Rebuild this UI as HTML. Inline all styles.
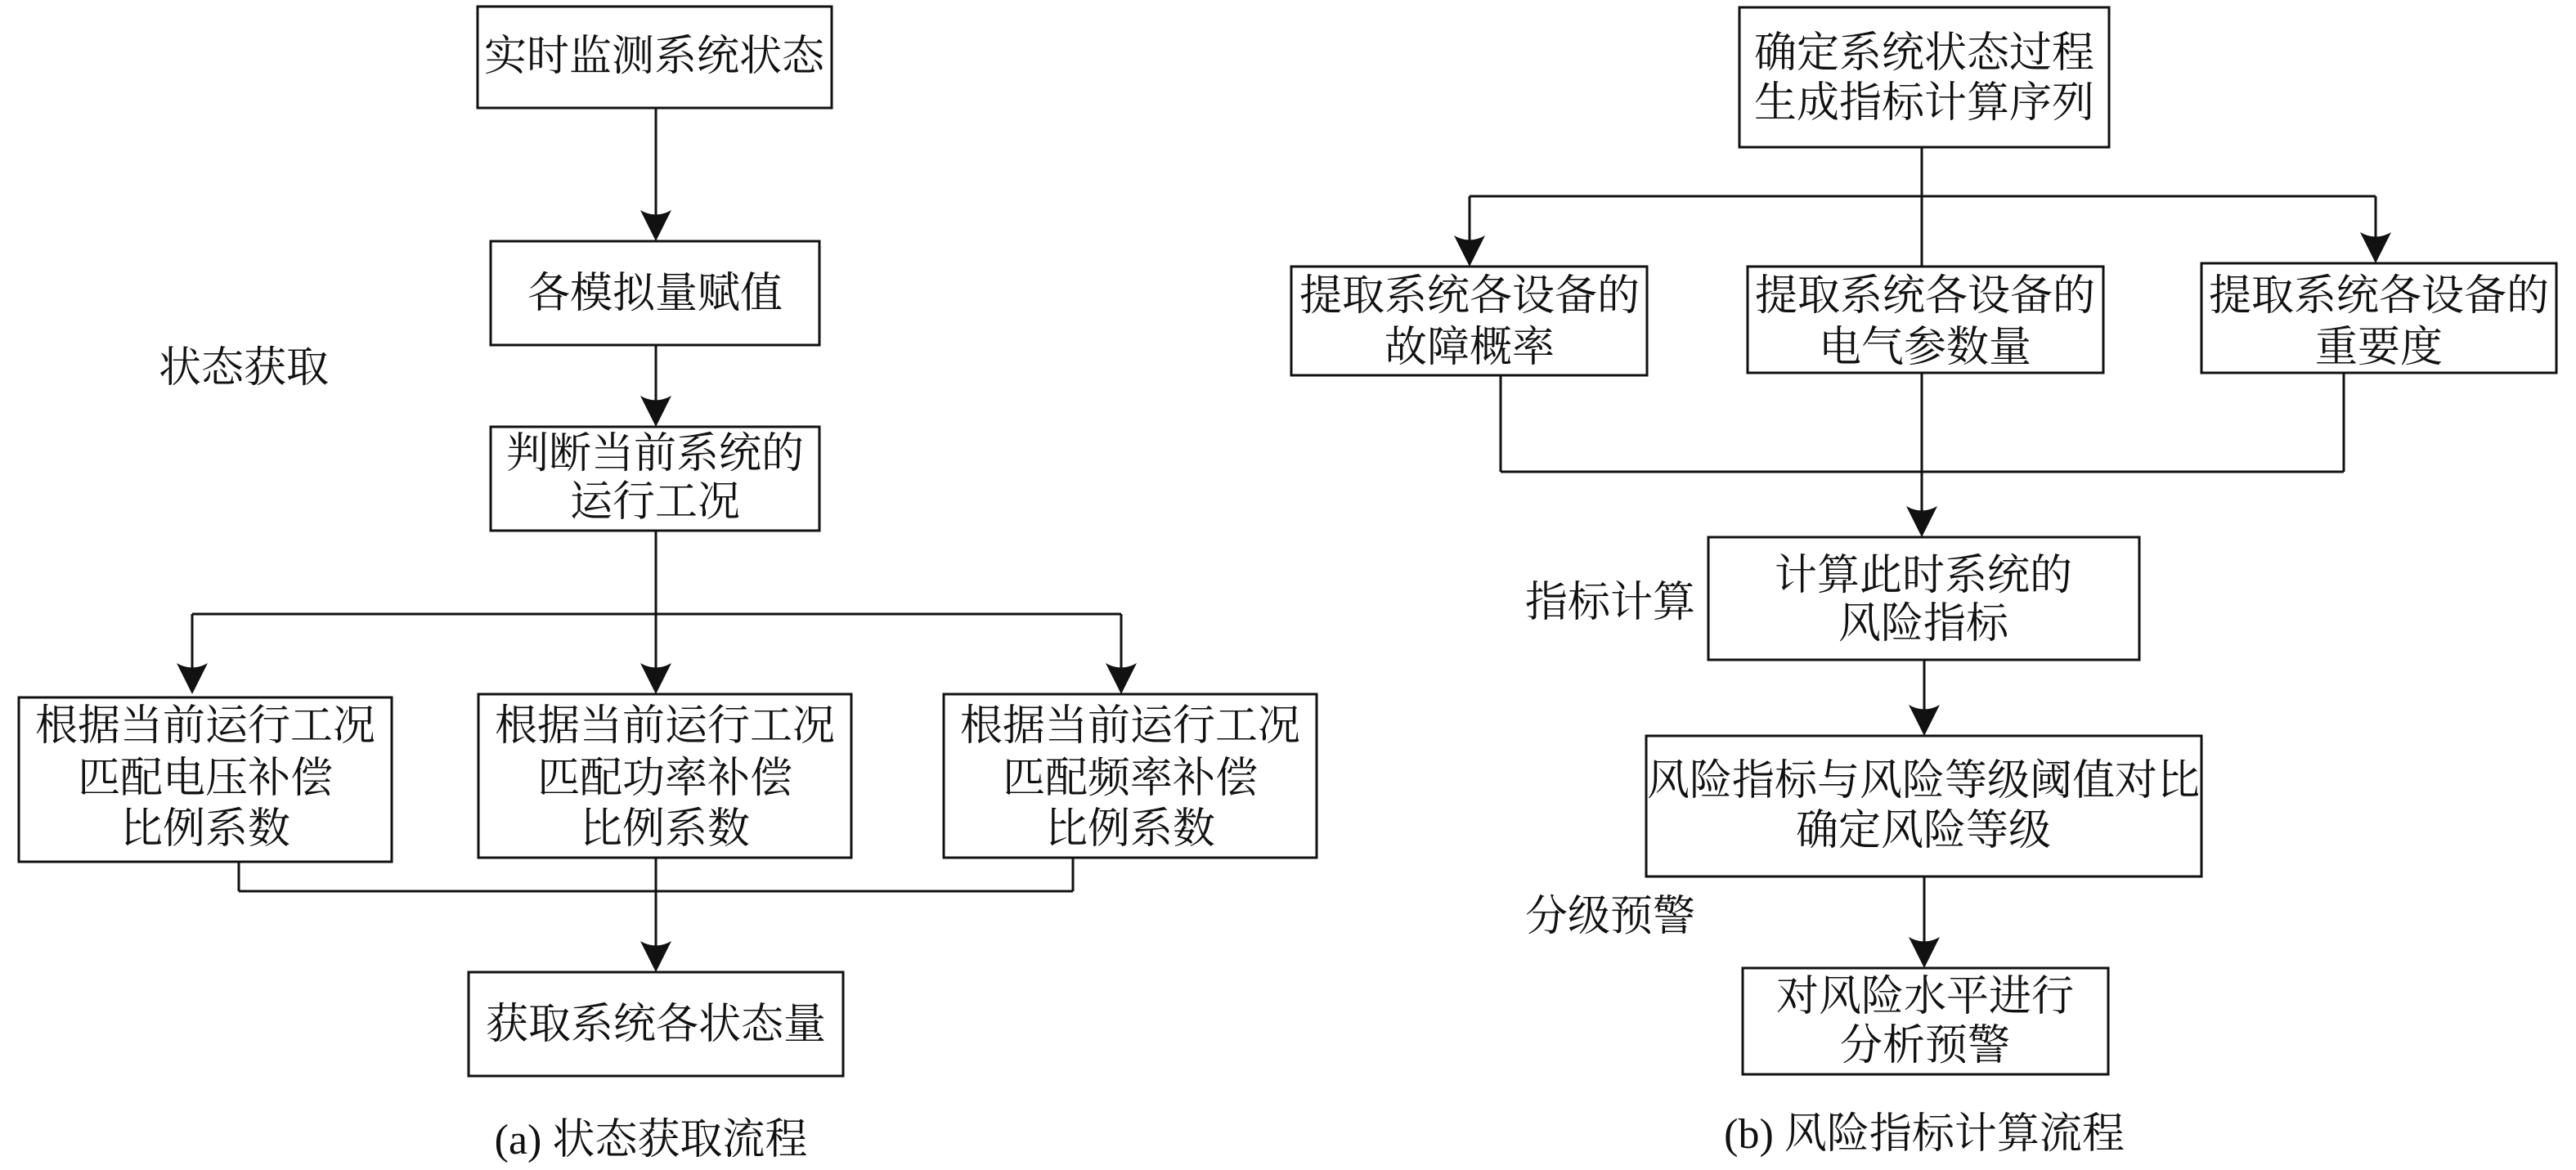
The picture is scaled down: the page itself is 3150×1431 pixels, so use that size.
<!DOCTYPE html>
<html>
<head>
<meta charset="utf-8">
<style>
  html, body { margin: 0; padding: 0; background: #ffffff; }
  svg { display: block; }
  text { font-family: "Noto Serif CJK SC", "Noto Serif CJK JP", "Noto Serif CJK TC", "Liberation Serif", serif; font-size: 52px; font-weight: 400; fill: #111; }
  text .lat { font-family: "Liberation Serif", serif; }
</style>
</head>
<body>
<svg width="3150" height="1431" viewBox="0 0 3150 1431" xmlns="http://www.w3.org/2000/svg">
  <g fill="none" stroke="#111" stroke-width="3">
    <!-- Left diagram boxes -->
    <rect x="584" y="8" width="433" height="124"/>
    <rect x="600" y="295" width="402" height="127"/>
    <rect x="600" y="522" width="402" height="127"/>
    <rect x="23" y="853" width="456" height="201"/>
    <rect x="585" y="849" width="456" height="200"/>
    <rect x="1154" y="849" width="456" height="200"/>
    <rect x="573" y="1189" width="458" height="127"/>
    <!-- Left connectors -->
    <line x1="802" y1="132" x2="802" y2="270"/>
    <line x1="802" y1="422" x2="802" y2="500"/>
    <line x1="802" y1="649" x2="802" y2="751"/>
    <line x1="235" y1="751" x2="1371" y2="751"/>
    <line x1="235" y1="751" x2="235" y2="830"/>
    <line x1="802" y1="751" x2="802" y2="830"/>
    <line x1="1371" y1="751" x2="1371" y2="830"/>
    <line x1="292" y1="1054" x2="292" y2="1090"/>
    <line x1="1312" y1="1049" x2="1312" y2="1090"/>
    <line x1="292" y1="1090" x2="1312" y2="1090"/>
    <line x1="802" y1="1049" x2="802" y2="1170"/>

    <!-- Right diagram boxes -->
    <rect x="2127" y="9" width="452" height="171"/>
    <rect x="1579" y="326" width="435" height="133"/>
    <rect x="2137" y="326" width="435" height="130"/>
    <rect x="2692" y="322" width="434" height="134"/>
    <rect x="2089" y="657" width="527" height="150"/>
    <rect x="2013" y="900" width="679" height="172"/>
    <rect x="2131" y="1184" width="447" height="130"/>
    <!-- Right connectors -->
    <line x1="2350" y1="180" x2="2350" y2="326"/>
    <line x1="1797" y1="240" x2="2905" y2="240"/>
    <line x1="1797" y1="240" x2="1797" y2="305"/>
    <line x1="2905" y1="240" x2="2905" y2="300"/>
    <line x1="1835" y1="459" x2="1835" y2="577"/>
    <line x1="2866" y1="456" x2="2866" y2="577"/>
    <line x1="1835" y1="577" x2="2866" y2="577"/>
    <line x1="2350" y1="456" x2="2350" y2="640"/>
    <line x1="2353" y1="807" x2="2353" y2="880"/>
    <line x1="2353" y1="1072" x2="2353" y2="1165"/>
  </g>

  <!-- Arrowheads -->
  <g fill="#111" stroke="none">
    <path d="M802 295 L783 257 Q802 268 821 257 Z"/>
    <path d="M802 522 L783 484 Q802 495 821 484 Z"/>
    <path d="M235 849 L216 811 Q235 822 254 811 Z"/>
    <path d="M802 849 L783 811 Q802 822 821 811 Z"/>
    <path d="M1371 849 L1352 811 Q1371 822 1390 811 Z"/>
    <path d="M802 1189 L783 1151 Q802 1162 821 1151 Z"/>

    <path d="M1797 326 L1778 288 Q1797 299 1816 288 Z"/>
    <path d="M2905 322 L2886 284 Q2905 295 2924 284 Z"/>
    <path d="M2350 657 L2331 619 Q2350 630 2369 619 Z"/>
    <path d="M2353 900 L2334 862 Q2353 873 2372 862 Z"/>
    <path d="M2353 1184 L2334 1146 Q2353 1157 2372 1146 Z"/>
  </g>

  <!-- Left diagram text -->
  <g text-anchor="middle">
    <text x="800" y="86">实时监测系统状态</text>
    <text x="801" y="376">各模拟量赋值</text>
    <text x="801" y="572">判断当前系统的</text>
    <text x="801" y="631">运行工况</text>

    <text x="251" y="905">根据当前运行工况</text>
    <text x="251" y="969">匹配电压补偿</text>
    <text x="251" y="1031">比例系数</text>

    <text x="813" y="905">根据当前运行工况</text>
    <text x="813" y="969">匹配功率补偿</text>
    <text x="813" y="1031">比例系数</text>

    <text x="1382" y="905">根据当前运行工况</text>
    <text x="1382" y="969">匹配频率补偿</text>
    <text x="1382" y="1031">比例系数</text>

    <text x="802" y="1270">获取系统各状态量</text>
    <text x="796" y="1411"><tspan class="lat">(a) </tspan>状态获取流程</text>
  </g>
  <text x="194" y="467">状态获取</text>

  <!-- Right diagram text -->
  <g text-anchor="middle">
    <text x="2353" y="82">确定系统状态过程</text>
    <text x="2353" y="143">生成指标计算序列</text>

    <text x="1797" y="379">提取系统各设备的</text>
    <text x="1797" y="442">故障概率</text>

    <text x="2354" y="379">提取系统各设备的</text>
    <text x="2354" y="442">电气参数量</text>

    <text x="2909" y="379">提取系统各设备的</text>
    <text x="2909" y="442">重要度</text>

    <text x="2352" y="721">计算此时系统的</text>
    <text x="2352" y="780">风险指标</text>

    <text x="2352" y="972">风险指标与风险等级阈值对比</text>
    <text x="2352" y="1033">确定风险等级</text>

    <text x="2354" y="1236">对风险水平进行</text>
    <text x="2354" y="1296">分析预警</text>

    <text x="2353" y="1404"><tspan class="lat">(b) </tspan>风险指标计算流程</text>
  </g>
  <text x="1865" y="754">指标计算</text>
  <text x="1865" y="1138">分级预警</text>
</svg>
</body>
</html>
